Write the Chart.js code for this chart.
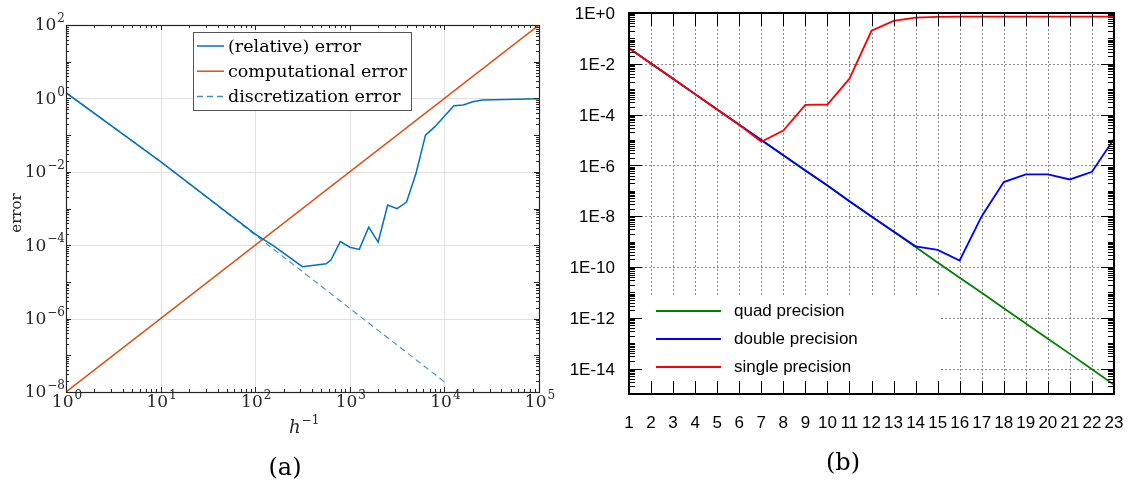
<!DOCTYPE html>
<html>
<head>
<meta charset="utf-8">
<script src="https://cdn.jsdelivr.net/npm/chart.js@4.4.1/dist/chart.umd.min.js"></script>
<style>
  html, body { margin: 0; padding: 0; background: #fff; }
  #wrap { position: relative; width: 1128px; height: 486px; overflow: hidden; }
  #leftChart { position: absolute; left: 0; top: 0; }
  #rightChart { position: absolute; left: 560px; top: 0; }
  .cap { position: absolute; font-family: "DejaVu Serif"; font-size: 24px; line-height: 1; color: #000; transform: translate(-50%, -50%); }
</style>
</head>
<body>
<div id="wrap">
  <canvas id="leftChart" width="560" height="486"></canvas>
  <canvas id="rightChart" width="568" height="486"></canvas>
  <div class="cap" style="left:285px; top:467px;">(a)</div>
  <div class="cap" style="left:843px; top:462px;">(b)</div>
</div>
<script>
// ---- panel (a) data ----
const hRel = [1, 10, 100, 155, 316, 562, 631, 794, 1000, 1259, 1585, 1995, 2512, 3162, 3981, 5012, 6310, 7943, 12589, 15849, 19953, 25119, 100000];
const relErr = [1.43, 0.019, 2.0e-4, 9.7e-5, 2.6e-5, 3.1e-5, 3.95e-5, 1.25e-4, 8.8e-5, 7.7e-5, 3.1e-4, 1.22e-4, 1.25e-3, 9.9e-4, 1.5e-3, 9.1e-3, 0.1, 0.17, 0.63, 0.66, 0.81, 0.9, 0.98];
const hComp = [1, 100000];
const compErr = [1e-8, 1e2];
const hDisc = [1, 10, 100, 1000, 10000];
const discErr = [1.43, 0.019, 1.9e-4, 1.9e-6, 1.9e-8];
const leftLegend = ['(relative) error', 'computational error', 'discretization error'];
const leftXTickExp = [0, 1, 2, 3, 4, 5];
const leftYTickExp = [-8, -6, -4, -2, 0, 2];

// ---- panel (b) data ----
const steps = [1, 2, 3, 4, 5, 6, 7, 8, 9, 10, 11, 12, 13, 14, 15, 16, 17, 18, 19, 20, 21, 22, 23];
const quadErr = [4.1e-2, 1.03e-2, 2.6e-3, 6.4e-4, 1.6e-4, 4.0e-5, 1.0e-5, 2.5e-6, 6.3e-7, 1.6e-7, 3.9e-8, 9.8e-9, 2.5e-9, 6.1e-10, 1.5e-10, 3.8e-11, 9.6e-12, 2.4e-12, 6.0e-13, 1.5e-13, 3.8e-14, 9.4e-15, 2.3e-15];
const doubleErr = [4.1e-2, 1.03e-2, 2.6e-3, 6.4e-4, 1.6e-4, 4.0e-5, 1.0e-5, 2.5e-6, 6.3e-7, 1.6e-7, 3.9e-8, 9.8e-9, 2.5e-9, 6.5e-10, 4.7e-10, 1.8e-10, 1.0e-8, 2.2e-7, 4.4e-7, 4.4e-7, 2.8e-7, 5.6e-7, 1.1e-5];
const singleErr = [4.1e-2, 1.03e-2, 2.6e-3, 6.4e-4, 1.6e-4, 4.0e-5, 8.5e-6, 2.35e-5, 2.4e-4, 2.5e-4, 2.6e-3, 0.2, 0.49, 0.66, 0.71, 0.72, 0.72, 0.72, 0.72, 0.72, 0.72, 0.72, 0.72];
const rightLegend = ['quad precision', 'double precision', 'single precision'];
const rightYTickExp = [0, -2, -4, -6, -8, -10, -12, -14];
const rightYTickLabels = ['1E+0', '1E-2', '1E-4', '1E-6', '1E-8', '1E-10', '1E-12', '1E-14'];

const pts = (xs, ys) => xs.map((x, i) => ({ x: x, y: ys[i] }));

function seg(ctx, x1, y1, x2, y2) {
  ctx.beginPath();
  ctx.moveTo(x1, y1);
  ctx.lineTo(x2, y2);
  ctx.stroke();
}

// "10" with a raised exponent
function drawPow(ctx, exp, x, y, align) {
  const base = '10';
  const sup = (exp < 0 ? '\u2212' : '') + Math.abs(exp);
  ctx.font = '17px "DejaVu Serif"';
  const wb = ctx.measureText(base).width;
  ctx.font = '12px "DejaVu Serif"';
  const ws = ctx.measureText(sup).width;
  const x0 = align === 'right' ? x - wb - ws - 1 : x - (wb + ws + 1) / 2;
  ctx.textAlign = 'left';
  ctx.textBaseline = 'middle';
  ctx.font = '17px "DejaVu Serif"';
  ctx.fillText(base, x0, y);
  ctx.font = '12px "DejaVu Serif"';
  ctx.fillText(sup, x0 + wb + 1, y - 7);
}

const leftDecor = {
  id: 'leftDecor',
  beforeDatasetsDraw(chart) {
    const { ctx, chartArea: a, scales: { x, y } } = chart;
    ctx.save();
    ctx.strokeStyle = '#e1e1e1';
    ctx.lineWidth = 1;
    leftXTickExp.forEach(e => {
      const px = Math.round(x.getPixelForValue(10 ** e)) + 0.5;
      seg(ctx, px, a.top, px, a.bottom);
    });
    leftYTickExp.forEach(e => {
      const py = Math.round(y.getPixelForValue(10 ** e)) + 0.5;
      seg(ctx, a.left, py, a.right, py);
    });
    ctx.restore();
  },
  afterDatasetsDraw(chart) {
    const { ctx, chartArea: a, scales: { x, y } } = chart;
    ctx.save();
    ctx.strokeStyle = '#262626';
    ctx.lineWidth = 1;
    // tick marks (inside, both sides)
    for (let e = 0; e <= 5; e++) {
      for (let k = 1; k <= 9; k++) {
        if (e === 5 && k > 1) break;
        const px = Math.round(x.getPixelForValue(k * 10 ** e)) + 0.5;
        const len = k === 1 ? 5 : 3;
        seg(ctx, px, a.bottom, px, a.bottom - len);
        seg(ctx, px, a.top, px, a.top + len);
      }
    }
    for (let e = -8; e <= 2; e++) {
      for (let k = 1; k <= 9; k++) {
        if (e === 2 && k > 1) break;
        const py = Math.round(y.getPixelForValue(k * 10 ** e)) + 0.5;
        const len = k === 1 ? 5 : 3;
        seg(ctx, a.left, py, a.left + len, py);
        seg(ctx, a.right, py, a.right - len, py);
      }
    }
    ctx.lineWidth = 1.2;
    ctx.strokeRect(Math.round(a.left) + 0.5, Math.round(a.top) + 0.5, Math.round(a.right - a.left), Math.round(a.bottom - a.top));

    // tick labels
    ctx.fillStyle = '#262626';
    leftXTickExp.forEach(e => drawPow(ctx, e, x.getPixelForValue(10 ** e) + 1, a.bottom + 11, 'center'));
    leftYTickExp.forEach(e => drawPow(ctx, e, a.left - 1, y.getPixelForValue(10 ** e) + 1, 'right'));

    // axis titles
    ctx.save();
    ctx.translate(17, 213);
    ctx.rotate(-Math.PI / 2);
    ctx.font = '15px "DejaVu Serif"';
    ctx.textAlign = 'center';
    ctx.textBaseline = 'middle';
    ctx.fillText('error', 0, 0);
    ctx.restore();
    ctx.textAlign = 'left';
    ctx.textBaseline = 'alphabetic';
    ctx.font = 'italic 18px "DejaVu Serif"';
    ctx.fillText('h', 289, 433);
    const hw = ctx.measureText('h').width;
    ctx.font = '12px "DejaVu Serif"';
    ctx.fillText('\u22121', 289 + hw + 1, 424);

    // legend
    ctx.fillStyle = '#fff';
    ctx.fillRect(193.5, 32.5, 218, 78);
    ctx.strokeStyle = '#555';
    ctx.lineWidth = 1;
    ctx.strokeRect(193.5, 32.5, 218, 78);
    const ds = chart.data.datasets;
    leftLegend.forEach((t, i) => {
      const ly = 46 + i * 25.2;
      ctx.strokeStyle = ds[i].borderColor;
      ctx.lineWidth = 1.5;
      ctx.setLineDash(ds[i].borderDash || []);
      seg(ctx, 197, ly, 224, ly);
      ctx.setLineDash([]);
      ctx.fillStyle = '#000';
      ctx.font = '17.5px "DejaVu Serif"';
      ctx.textBaseline = 'middle';
      ctx.fillText(t, 228, ly + 1);
    });
    ctx.restore();
  }
};

new Chart(document.getElementById('leftChart'), {
  type: 'line',
  data: {
    datasets: [
      { label: leftLegend[0], data: pts(hRel, relErr), borderColor: '#0072BD', borderWidth: 1.5 },
      { label: leftLegend[1], data: pts(hComp, compErr), borderColor: '#D95319', borderWidth: 1.5 },
      { label: leftLegend[2], data: pts(hDisc, discErr), borderColor: '#3d8fd1', borderWidth: 1.1, borderDash: [6, 4] }
    ]
  },
  options: {
    responsive: false,
    animation: false,
    devicePixelRatio: 1,
    layout: { padding: { left: 0, top: 25, right: 21, bottom: 0 } },
    elements: { point: { radius: 0 }, line: { tension: 0 } },
    plugins: { legend: { display: false }, tooltip: { enabled: false } },
    scales: {
      x: {
        type: 'logarithmic', min: 1, max: 1e5,
        grid: { display: false }, border: { display: false }, ticks: { display: false },
        afterFit: s => { s.height = 94; }
      },
      y: {
        type: 'logarithmic', min: 1e-8, max: 1e2,
        grid: { display: false }, border: { display: false }, ticks: { display: false },
        afterFit: s => { s.width = 66; }
      }
    }
  },
  plugins: [leftDecor]
});

const rightDecor = {
  id: 'rightDecor',
  beforeDatasetsDraw(chart) {
    const { ctx, chartArea: a, scales: { x, y } } = chart;
    ctx.save();
    ctx.strokeStyle = '#8a8a8a';
    ctx.lineWidth = 1;
    ctx.setLineDash([2, 2]);
    steps.slice(1, -1).forEach(n => {
      const px = Math.round(x.getPixelForValue(n)) + 0.5;
      seg(ctx, px, a.top, px, a.bottom);
    });
    rightYTickExp.slice(1).forEach(e => {
      const py = Math.round(y.getPixelForValue(10 ** e)) + 0.5;
      seg(ctx, a.left, py, a.right, py);
    });
    ctx.restore();
  },
  afterDatasetsDraw(chart) {
    const { ctx, chartArea: a, scales: { x, y } } = chart;
    ctx.save();
    // legend area (blank background)
    ctx.fillStyle = '#fff';
    ctx.fillRect(a.left + 1, 297, 381 - a.left - 1, a.bottom - 297);
    const ds = chart.data.datasets;
    rightLegend.forEach((t, i) => {
      const ly = 311 + i * 28;
      ctx.strokeStyle = ds[i].borderColor;
      ctx.lineWidth = 1.8;
      seg(ctx, 96, ly, 161, ly);
      ctx.fillStyle = '#000';
      ctx.font = '17px "Liberation Sans"';
      ctx.textAlign = 'left';
      ctx.textBaseline = 'middle';
      ctx.fillText(t, 174, ly);
    });

    // tick marks
    ctx.strokeStyle = '#000';
    ctx.lineWidth = 1;
    steps.forEach(n => {
      const px = Math.round(x.getPixelForValue(n)) + 0.5;
      seg(ctx, px, a.bottom, px, a.bottom - 13);
      seg(ctx, px, a.top, px, a.top + 13);
    });
    for (let e = -15; e <= 0; e++) {
      for (let k = 1; k <= 9; k++) {
        if (e === 0 && k > 1) break;
        const py = Math.round(y.getPixelForValue(k * 10 ** e)) + 0.5;
        const len = (k === 1 && e % 2 === 0) ? 13 : 6;
        seg(ctx, a.left, py, a.left + len, py);
        seg(ctx, a.right, py, a.right - len, py);
      }
    }
    ctx.lineWidth = 2;
    ctx.strokeRect(Math.round(a.left), Math.round(a.top), Math.round(a.right - a.left), Math.round(a.bottom - a.top));

    // tick labels
    ctx.fillStyle = '#000';
    ctx.font = '17px "Liberation Sans"';
    ctx.textBaseline = 'middle';
    ctx.textAlign = 'right';
    rightYTickExp.forEach((e, i) => {
      ctx.fillText(rightYTickLabels[i], a.left - 14, y.getPixelForValue(10 ** e) + 1.5);
    });
    ctx.textAlign = 'center';
    steps.forEach(n => {
      ctx.fillText(String(n), x.getPixelForValue(n), 423);
    });
    ctx.restore();
  }
};

new Chart(document.getElementById('rightChart'), {
  type: 'line',
  data: {
    datasets: [
      { label: rightLegend[0], data: pts(steps, quadErr), borderColor: '#008000', borderWidth: 1.8, order: 2 },
      { label: rightLegend[1], data: pts(steps, doubleErr), borderColor: '#0000FF', borderWidth: 1.8, order: 1 },
      { label: rightLegend[2], data: pts(steps, singleErr), borderColor: '#FF0000', borderWidth: 1.8, order: 0 }
    ]
  },
  options: {
    responsive: false,
    animation: false,
    devicePixelRatio: 1,
    layout: { padding: { left: 0, top: 13, right: 14, bottom: 0 } },
    elements: { point: { radius: 0 }, line: { tension: 0 } },
    plugins: { legend: { display: false }, tooltip: { enabled: false } },
    scales: {
      x: {
        type: 'linear', min: 1, max: 23,
        grid: { display: false }, border: { display: false }, ticks: { display: false },
        afterFit: s => { s.height = 92; }
      },
      y: {
        type: 'logarithmic', min: 1e-15, max: 1,
        grid: { display: false }, border: { display: false }, ticks: { display: false },
        afterFit: s => { s.width = 69; }
      }
    }
  },
  plugins: [rightDecor]
});
</script>
</body>
</html>
